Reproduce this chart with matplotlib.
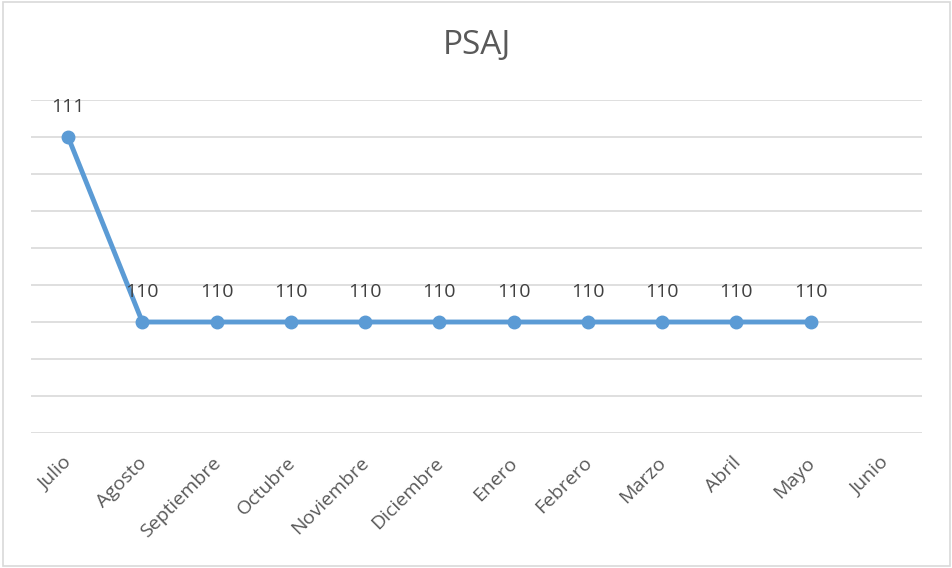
import numpy as np
import matplotlib.pyplot as plt
import matplotlib.transforms as mtransforms

months = ["Julio", "Agosto", "Septiembre", "Octubre", "Noviembre", "Diciembre",
          "Enero", "Febrero", "Marzo", "Abril", "Mayo", "Junio"]
values = [111, 110, 110, 110, 110, 110, 110, 110, 110, 110, 110, np.nan]

plt.rcParams['font.family'] = ['Open Sans', 'DejaVu Sans']

fig = plt.figure(figsize=(9.53, 5.68), dpi=100)
ax = fig.add_axes([31 / 953, 1 - 433 / 568, (922 - 31) / 953, (433 - 100) / 568])

x = np.arange(len(months))
ax.plot(x, values, color="#5b9bd5", lw=3.5, marker="o", ms=9, solid_capstyle="round", zorder=3)
for xi, v in zip(x, values):
    if not np.isnan(v):
        ax.annotate(f"{v:.0f}", (xi, v), xytext=(0, 15), textcoords="offset points",
                    ha="center", va="bottom", fontsize=14, color="#404040")

ax.set_xlim(-0.5, len(months) - 0.5)
ax.set_ylim(109.4, 111.2)
ax.set_yticks(np.arange(109.4, 111.21, 0.2))
ax.yaxis.grid(True, color="#d9d9d9", lw=1.2)
ax.tick_params(axis="y", left=False, labelleft=False)
ax.tick_params(axis="x", length=0, pad=15)
ax.set_xticks(x)
ax.set_xticklabels(months, rotation=45, ha="right", rotation_mode="anchor",
                   fontsize=14, color="#595959")

# nudge month labels a little to the left
shift = mtransforms.ScaledTranslation(-5 / 100, 0, fig.dpi_scale_trans)
for lbl in ax.get_xticklabels():
    lbl.set_transform(lbl.get_transform() + shift)

for s in ax.spines.values():
    s.set_visible(False)

fig.text(0.5, 1 - 46 / 568, "PSAJ", ha="center", va="center", fontsize=24, color="#595959")

# outer border like the Excel chart area
fig.patches.append(plt.Rectangle((0.003, 0.003), 0.994, 0.994, transform=fig.transFigure,
                                 fill=False, edgecolor="#d9d9d9", lw=1.2))

fig.savefig("out.png", dpi=100)
